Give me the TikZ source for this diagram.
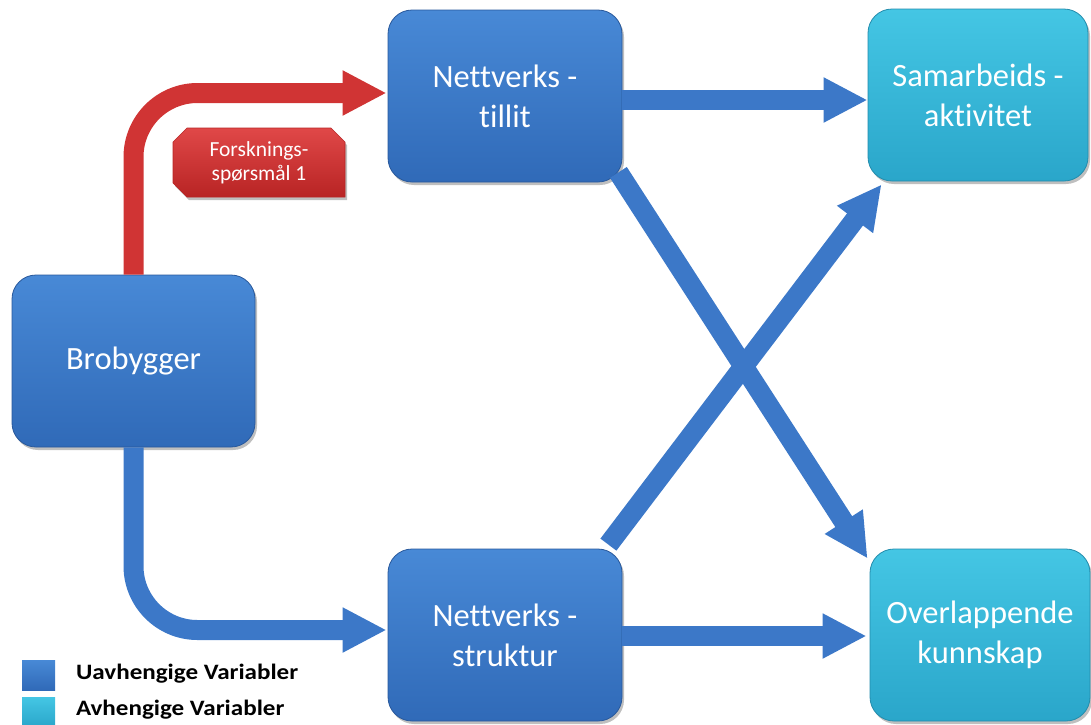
\documentclass[tikz,border=0pt]{standalone}
\usepackage{fontspec}
\setmainfont{Carlito}[RawFeature={-liga,-calt,-dlig,-clig}]
\usetikzlibrary{arrows.meta,shapes.misc,shadows}

\definecolor{indtop}{RGB}{72,137,214}
\definecolor{indbot}{RGB}{48,106,184}
\definecolor{indedge}{RGB}{40,88,155}
\definecolor{deptop}{RGB}{68,198,228}
\definecolor{depbot}{RGB}{42,166,202}
\definecolor{depedge}{RGB}{35,140,172}
\definecolor{flowblue}{RGB}{60,120,200}
\definecolor{flowred}{RGB}{208,52,52}
\definecolor{rqtop}{RGB}{224,72,72}
\definecolor{rqbot}{RGB}{184,36,36}

\begin{document}
\begin{tikzpicture}[x=1pt,y=-1pt,
  varbox/.style={rounded corners=24pt, line width=0.8pt, text=white,
    align=center, font=\fontsize{32.5}{40}\selectfont, inner sep=0pt,
    minimum width=234pt, minimum height=172pt,
    drop shadow={shadow xshift=2pt, shadow yshift=-3pt, opacity=0.25, fill=black}},
  indep/.style={varbox, draw=indedge, top color=indtop, bottom color=indbot},
  dep/.style={varbox, draw=depedge, top color=deptop, bottom color=depbot,
    minimum width=220pt},
  flow/.style={line width=20pt, draw=flowblue, line cap=butt,
    -{Triangle[length=44pt,width=42pt]}},
  flowr/.style={flow, draw=flowred},
  legsq/.style={minimum width=33pt, minimum height=30pt, inner sep=0pt},
  legtext/.style={anchor=base west, font=\fontsize{22}{26}\selectfont\bfseries,
    text=black, transform shape, xscale=1.14},
]
\useasboundingbox (0,0) rectangle (1091,724);

% variables
\node[indep, minimum width=243pt] (bro) at (133.5,361) {Brobygger};
\node[indep] (tillit) at (505,96) {Nettverks -\\tillit};
\node[indep] (struk) at (505,635) {Nettverks -\\struktur};
\node[dep] (samar) at (978,95) {Samarbeids -\\aktivitet};
\node[dep] (overl) at (980,635) {Overlappende\\kunnskap};

% research question label
\node[chamfered rectangle, chamfered rectangle xsep=7pt, chamfered rectangle ysep=7pt,
  chamfered rectangle corners={north west, north east, south west},
  minimum width=172pt, minimum height=69pt, inner sep=0pt,
  draw=rqbot, line width=0.6pt, top color=rqtop, bottom color=rqbot,
  text=white, align=center, font=\fontsize{21.5}{24}\selectfont,
  drop shadow={shadow xshift=2pt, shadow yshift=-3pt, opacity=0.25, fill=black}]
  (rq) at (259,162.5) {Forsknings-\\spørsmål 1};

% connectors
\draw[flowr, rounded corners=64pt, shorten >=1pt]
  (bro.north) |- ([yshift=3pt]tillit.west);
\draw[flow, rounded corners=64pt, shorten >=1pt]
  (bro.south) |- ([yshift=5pt]struk.west);
\draw[flow] ([yshift=-4pt]tillit.east) -- ([yshift=-4pt]tillit.east -| samar.west);
\draw[flow, shorten >=3pt] ([yshift=-1pt]struk.east) -- ([yshift=-1pt]struk.east -| overl.west);
\draw[flow] ([shift={(-4,-10)}]tillit.south east) -- ([shift={(-2,10)}]overl.north west);
\draw[flow] ([shift={(-14,-4)}]struk.north east) -- ([shift={(14,3)}]samar.south west);

% legend
\node[legsq, top color=indtop, bottom color=indbot] (legi) at (38.5,675) {};
\node[legsq, top color=deptop, bottom color=depbot] (legd) at (38.5,712) {};
\node[legtext] (legit) at (72,679) {Uavhengige Variabler};
\node[legtext] (legdt) at (72,715) {Avhengige Variabler};
\end{tikzpicture}
\end{document}
